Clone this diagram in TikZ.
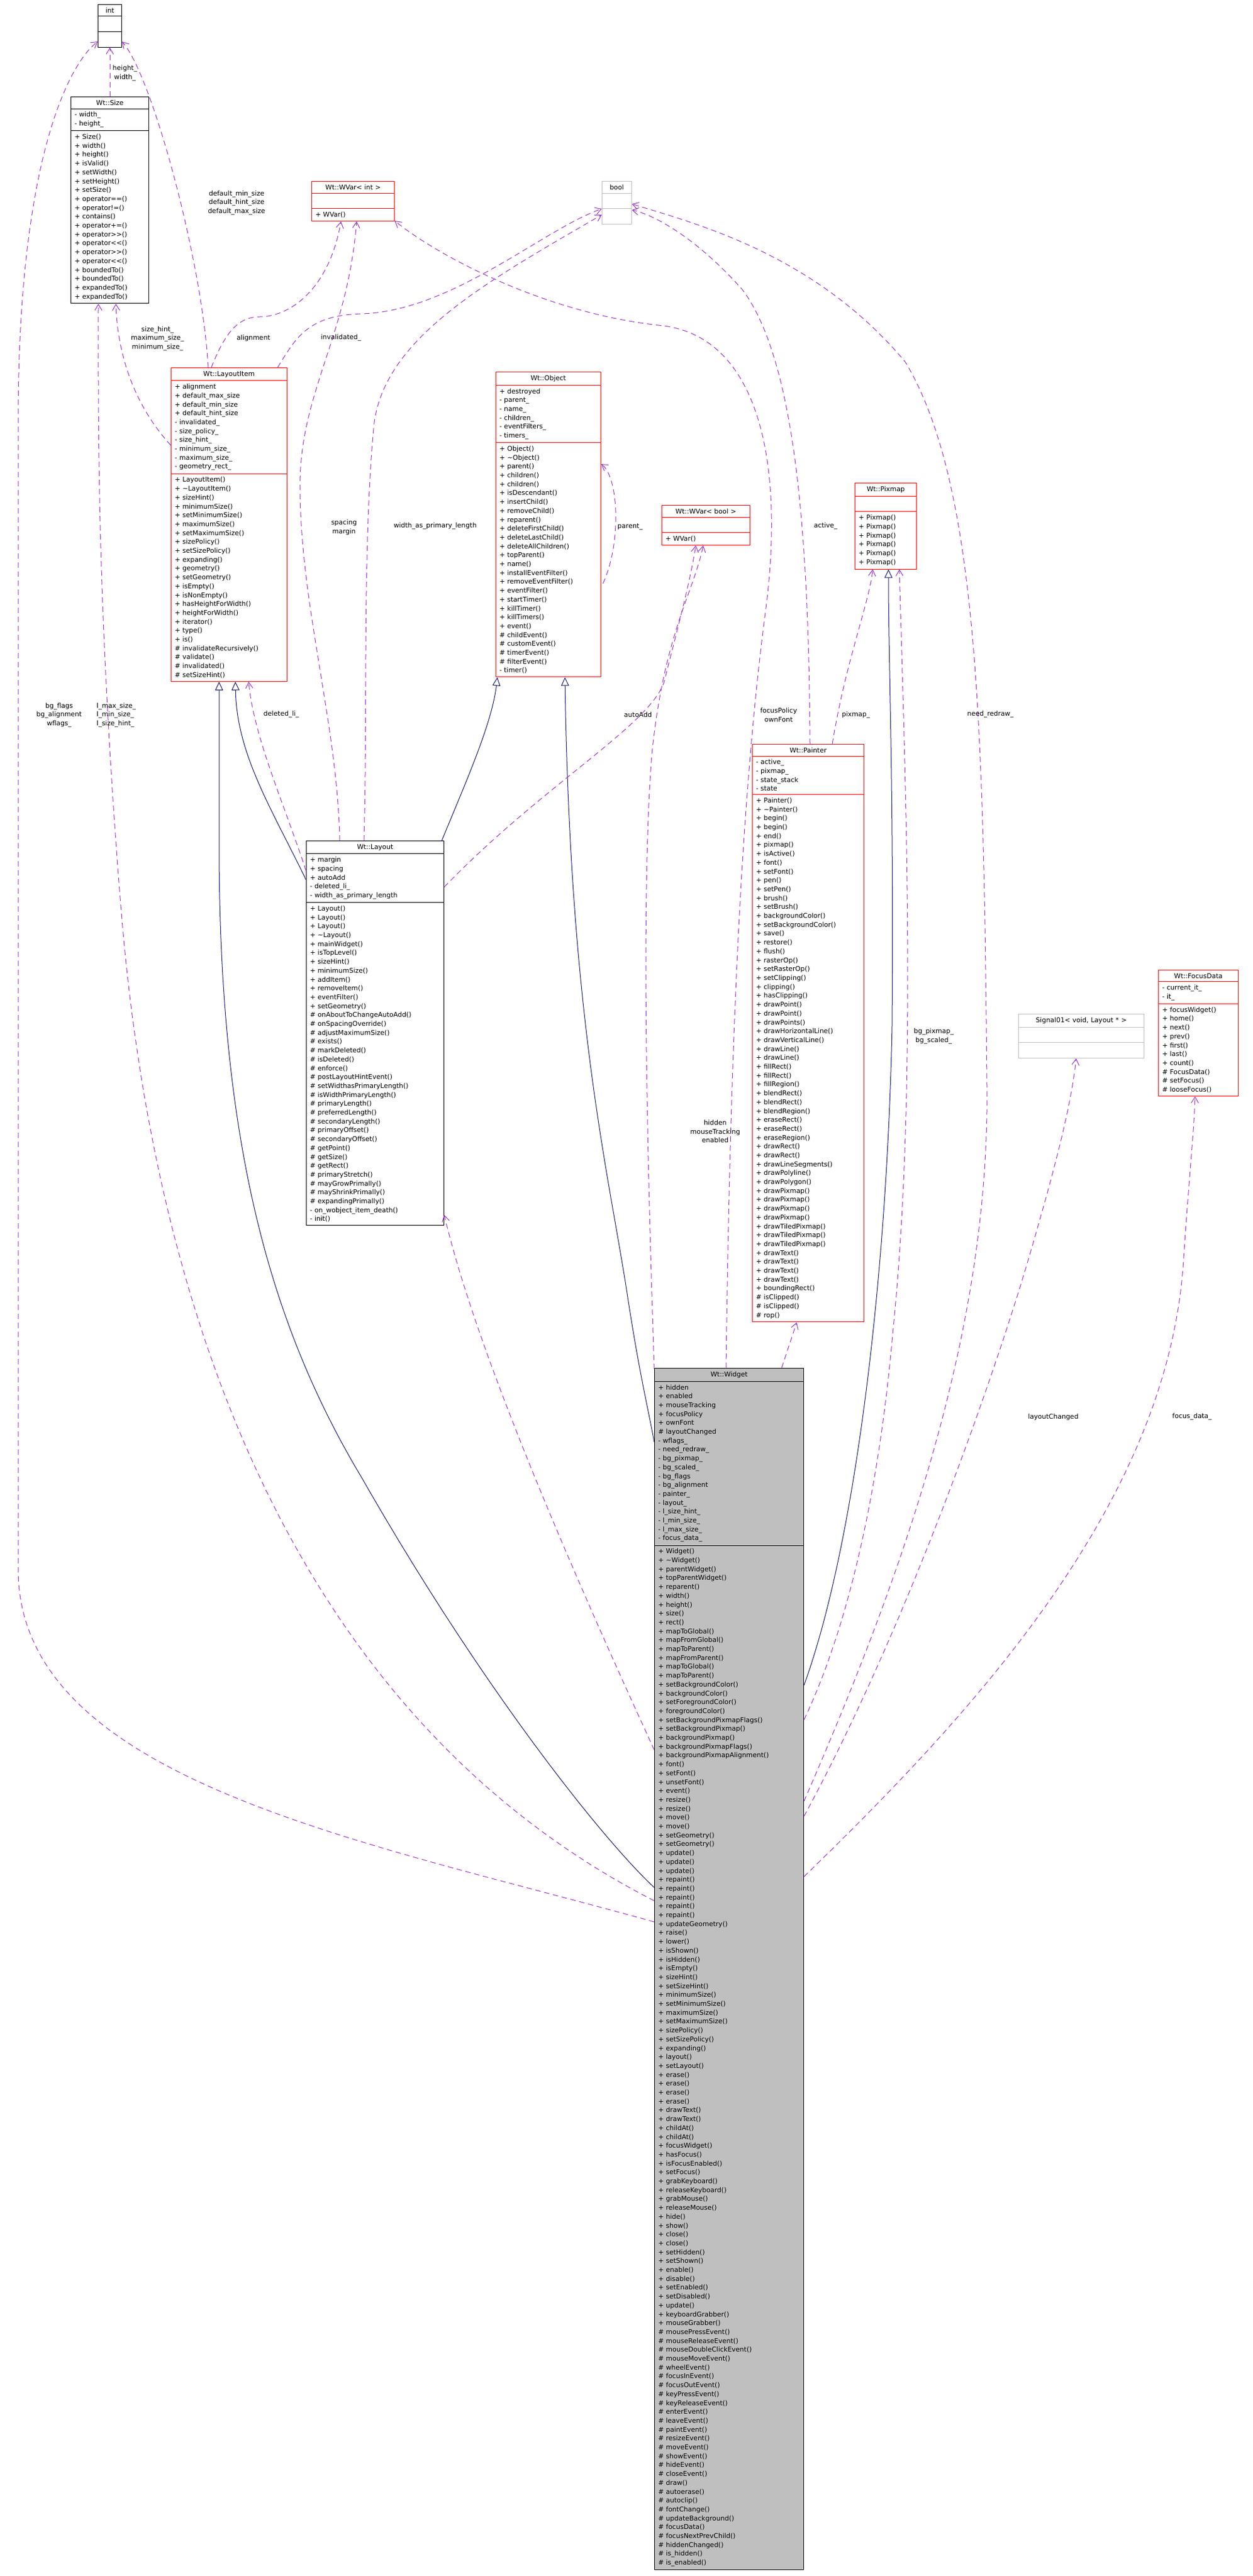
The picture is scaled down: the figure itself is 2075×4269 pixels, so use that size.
\documentclass[tikz,border=0pt]{standalone}
\usepackage{fontspec}
\newfontfamily\dx{DejaVu Sans}
\usetikzlibrary{shapes.multipart,arrows.meta,calc}
\definecolor{cred}{HTML}{FF0000}
\definecolor{cgrey}{HTML}{BFBFBF}
\definecolor{inhc}{HTML}{191970}
\definecolor{usec}{HTML}{9A32CD}
\newcommand\dxf{\dx\fontsize{11}{14.7}\selectfont}
\newcommand\PP[1]{+ #1}
\newcommand\HH[1]{\# #1}
\newcommand\MM[1]{- #1}
\newcommand\hd[1]{{\centering #1\par}}
\tikzset{
 cls/.style={rectangle split, rectangle split parts=3, draw=cred, anchor=north west, align=left,
   inner xsep=6pt, inner ysep=5pt, font=\dxf, line width=1pt, text width=#1, fill=white},
 blk/.style={draw=black},
 gry/.style={draw=cgrey},
 usel/.style={draw=usec, dash pattern=on 9pt off 6pt, line width=1pt, -{Straight Barb[length=10pt,width=12pt]}},
 inh/.style={draw=inhc, line width=1pt, -{Triangle[open,length=14pt,width=13pt,fill=white]}},
 lbl/.style={font=\dxf, align=center, inner sep=0pt},
 lbll/.style={font=\dxf, align=left, inner sep=0pt, anchor=west},
}
\begin{document}
\begin{tikzpicture}[x=1pt,y=-1pt]
\fill[white] (0,0) rectangle (2075,4269);
\useasboundingbox (0,0) rectangle (2075,4269);

% ---------------- classes
\node[cls=27pt,blk] (int) at (162,7) {\hd{int}\nodepart{two}\strut\nodepart{three}\strut};
\node[cls=117pt,blk] (size) at (117,160) {\hd{Wt::Size}\nodepart{two}\MM{width\_}\\\MM{height\_}\nodepart{three}\PP{Size()}\\\PP{width()}\\\PP{height()}\\\PP{isValid()}\\\PP{setWidth()}\\\PP{setHeight()}\\\PP{setSize()}\\\PP{operator==()}\\\PP{operator!=()}\\\PP{contains()}\\\PP{operator+=()}\\\PP{operator>>()}\\\PP{operator<<()}\\\PP{operator>>()}\\\PP{operator<<()}\\\PP{boundedTo()}\\\PP{boundedTo()}\\\PP{expandedTo()}\\\PP{expandedTo()}};
\node[cls=125pt] (wvint) at (516,300) {\hd{Wt::WVar< int >}\nodepart{two}\strut\nodepart{three}\PP{WVar()}};
\node[cls=37pt,gry] (bool) at (997,300) {\hd{bool}\nodepart{two}\strut\nodepart{three}\strut};
\node[cls=180pt] (litem) at (283,609) {\hd{Wt::LayoutItem}\nodepart{two}\PP{alignment}\\\PP{default\_max\_size}\\\PP{default\_min\_size}\\\PP{default\_hint\_size}\\\MM{invalidated\_}\\\MM{size\_policy\_}\\\MM{size\_hint\_}\\\MM{minimum\_size\_}\\\MM{maximum\_size\_}\\\MM{geometry\_rect\_}\nodepart{three}\PP{LayoutItem()}\\\PP{\textasciitilde LayoutItem()}\\\PP{sizeHint()}\\\PP{minimumSize()}\\\PP{setMinimumSize()}\\\PP{maximumSize()}\\\PP{setMaximumSize()}\\\PP{sizePolicy()}\\\PP{setSizePolicy()}\\\PP{expanding()}\\\PP{geometry()}\\\PP{setGeometry()}\\\PP{isEmpty()}\\\PP{isNonEmpty()}\\\PP{hasHeightForWidth()}\\\PP{heightForWidth()}\\\PP{iterator()}\\\PP{type()}\\\PP{is()}\\\HH{invalidateRecursively()}\\\HH{validate()}\\\HH{invalidated()}\\\HH{setSizeHint()}};
\node[cls=162pt] (object) at (821,616) {\hd{Wt::Object}\nodepart{two}\PP{destroyed}\\\MM{parent\_}\\\MM{name\_}\\\MM{children\_}\\\MM{eventFilters\_}\\\MM{timers\_}\nodepart{three}\PP{Object()}\\\PP{\textasciitilde Object()}\\\PP{parent()}\\\PP{children()}\\\PP{children()}\\\PP{isDescendant()}\\\PP{insertChild()}\\\PP{removeChild()}\\\PP{reparent()}\\\PP{deleteFirstChild()}\\\PP{deleteLastChild()}\\\PP{deleteAllChildren()}\\\PP{topParent()}\\\PP{name()}\\\PP{installEventFilter()}\\\PP{removeEventFilter()}\\\PP{eventFilter()}\\\PP{startTimer()}\\\PP{killTimer()}\\\PP{killTimers()}\\\PP{event()}\\\HH{childEvent()}\\\HH{customEvent()}\\\HH{timerEvent()}\\\HH{filterEvent()}\\\MM{timer()}};
\node[cls=134pt] (wvbool) at (1096,837) {\hd{Wt::WVar< bool >}\nodepart{two}\strut\nodepart{three}\PP{WVar()}};
\node[cls=90pt] (pixmap) at (1416,800) {\hd{Wt::Pixmap}\nodepart{two}\strut\nodepart{three}\PP{Pixmap()}\\\PP{Pixmap()}\\\PP{Pixmap()}\\\PP{Pixmap()}\\\PP{Pixmap()}\\\PP{Pixmap()}};
\node[cls=173pt] (painter) at (1246,1233) {\hd{Wt::Painter}\nodepart{two}\MM{active\_}\\\MM{pixmap\_}\\\MM{state\_stack}\\\MM{state}\nodepart{three}\PP{Painter()}\\\PP{\textasciitilde Painter()}\\\PP{begin()}\\\PP{begin()}\\\PP{end()}\\\PP{pixmap()}\\\PP{isActive()}\\\PP{font()}\\\PP{setFont()}\\\PP{pen()}\\\PP{setPen()}\\\PP{brush()}\\\PP{setBrush()}\\\PP{backgroundColor()}\\\PP{setBackgroundColor()}\\\PP{save()}\\\PP{restore()}\\\PP{flush()}\\\PP{rasterOp()}\\\PP{setRasterOp()}\\\PP{setClipping()}\\\PP{clipping()}\\\PP{hasClipping()}\\\PP{drawPoint()}\\\PP{drawPoint()}\\\PP{drawPoints()}\\\PP{drawHorizontalLine()}\\\PP{drawVerticalLine()}\\\PP{drawLine()}\\\PP{drawLine()}\\\PP{fillRect()}\\\PP{fillRect()}\\\PP{fillRegion()}\\\PP{blendRect()}\\\PP{blendRect()}\\\PP{blendRegion()}\\\PP{eraseRect()}\\\PP{eraseRect()}\\\PP{eraseRegion()}\\\PP{drawRect()}\\\PP{drawRect()}\\\PP{drawLineSegments()}\\\PP{drawPolyline()}\\\PP{drawPolygon()}\\\PP{drawPixmap()}\\\PP{drawPixmap()}\\\PP{drawPixmap()}\\\PP{drawPixmap()}\\\PP{drawTiledPixmap()}\\\PP{drawTiledPixmap()}\\\PP{drawTiledPixmap()}\\\PP{drawText()}\\\PP{drawText()}\\\PP{drawText()}\\\PP{drawText()}\\\PP{boundingRect()}\\\HH{isClipped()}\\\HH{isClipped()}\\\HH{rop()}};
\node[cls=216pt,blk] (layout) at (507,1393) {\hd{Wt::Layout}\nodepart{two}\PP{margin}\\\PP{spacing}\\\PP{autoAdd}\\\MM{deleted\_li\_}\\\MM{width\_as\_primary\_length}\nodepart{three}\PP{Layout()}\\\PP{Layout()}\\\PP{Layout()}\\\PP{\textasciitilde Layout()}\\\PP{mainWidget()}\\\PP{isTopLevel()}\\\PP{sizeHint()}\\\PP{minimumSize()}\\\PP{addItem()}\\\PP{removeItem()}\\\PP{eventFilter()}\\\PP{setGeometry()}\\\HH{onAboutToChangeAutoAdd()}\\\HH{onSpacingOverride()}\\\HH{adjustMaximumSize()}\\\HH{exists()}\\\HH{markDeleted()}\\\HH{isDeleted()}\\\HH{enforce()}\\\HH{postLayoutHintEvent()}\\\HH{setWidthasPrimaryLength()}\\\HH{isWidthPrimaryLength()}\\\HH{primaryLength()}\\\HH{preferredLength()}\\\HH{secondaryLength()}\\\HH{primaryOffset()}\\\HH{secondaryOffset()}\\\HH{getPoint()}\\\HH{getSize()}\\\HH{getRect()}\\\HH{primaryStretch()}\\\HH{mayGrowPrimally()}\\\HH{mayShrinkPrimally()}\\\HH{expandingPrimally()}\\\MM{on\_wobject\_item\_death()}\\\MM{init()}};
\node[cls=196pt,gry] (signal) at (1687,1680) {\hd{Signal01< void, Layout * >}\nodepart{two}\strut\nodepart{three}\strut};
\node[cls=120pt] (focus) at (1919,1607) {\hd{Wt::FocusData}\nodepart{two}\MM{current\_it\_}\\\MM{it\_}\nodepart{three}\PP{focusWidget()}\\\PP{home()}\\\PP{next()}\\\PP{prev()}\\\PP{first()}\\\PP{last()}\\\PP{count()}\\\HH{FocusData()}\\\HH{setFocus()}\\\HH{looseFocus()}};
\node[cls=235pt,blk,fill=cgrey] (widget) at (1084,2267) {\hd{Wt::Widget}\nodepart{two}\PP{hidden}\\\PP{enabled}\\\PP{mouseTracking}\\\PP{focusPolicy}\\\PP{ownFont}\\\HH{layoutChanged}\\\MM{wflags\_}\\\MM{need\_redraw\_}\\\MM{bg\_pixmap\_}\\\MM{bg\_scaled\_}\\\MM{bg\_flags}\\\MM{bg\_alignment}\\\MM{painter\_}\\\MM{layout\_}\\\MM{l\_size\_hint\_}\\\MM{l\_min\_size\_}\\\MM{l\_max\_size\_}\\\MM{focus\_data\_}\nodepart{three}\PP{Widget()}\\\PP{\textasciitilde Widget()}\\\PP{parentWidget()}\\\PP{topParentWidget()}\\\PP{reparent()}\\\PP{width()}\\\PP{height()}\\\PP{size()}\\\PP{rect()}\\\PP{mapToGlobal()}\\\PP{mapFromGlobal()}\\\PP{mapToParent()}\\\PP{mapFromParent()}\\\PP{mapToGlobal()}\\\PP{mapToParent()}\\\PP{setBackgroundColor()}\\\PP{backgroundColor()}\\\PP{setForegroundColor()}\\\PP{foregroundColor()}\\\PP{setBackgroundPixmapFlags()}\\\PP{setBackgroundPixmap()}\\\PP{backgroundPixmap()}\\\PP{backgroundPixmapFlags()}\\\PP{backgroundPixmapAlignment()}\\\PP{font()}\\\PP{setFont()}\\\PP{unsetFont()}\\\PP{event()}\\\PP{resize()}\\\PP{resize()}\\\PP{move()}\\\PP{move()}\\\PP{setGeometry()}\\\PP{setGeometry()}\\\PP{update()}\\\PP{update()}\\\PP{update()}\\\PP{repaint()}\\\PP{repaint()}\\\PP{repaint()}\\\PP{repaint()}\\\PP{repaint()}\\\PP{updateGeometry()}\\\PP{raise()}\\\PP{lower()}\\\PP{isShown()}\\\PP{isHidden()}\\\PP{isEmpty()}\\\PP{sizeHint()}\\\PP{setSizeHint()}\\\PP{minimumSize()}\\\PP{setMinimumSize()}\\\PP{maximumSize()}\\\PP{setMaximumSize()}\\\PP{sizePolicy()}\\\PP{setSizePolicy()}\\\PP{expanding()}\\\PP{layout()}\\\PP{setLayout()}\\\PP{erase()}\\\PP{erase()}\\\PP{erase()}\\\PP{erase()}\\\PP{drawText()}\\\PP{drawText()}\\\PP{childAt()}\\\PP{childAt()}\\\PP{focusWidget()}\\\PP{hasFocus()}\\\PP{isFocusEnabled()}\\\PP{setFocus()}\\\PP{grabKeyboard()}\\\PP{releaseKeyboard()}\\\PP{grabMouse()}\\\PP{releaseMouse()}\\\PP{hide()}\\\PP{show()}\\\PP{close()}\\\PP{close()}\\\PP{setHidden()}\\\PP{setShown()}\\\PP{enable()}\\\PP{disable()}\\\PP{setEnabled()}\\\PP{setDisabled()}\\\PP{update()}\\\PP{keyboardGrabber()}\\\PP{mouseGrabber()}\\\HH{mousePressEvent()}\\\HH{mouseReleaseEvent()}\\\HH{mouseDoubleClickEvent()}\\\HH{mouseMoveEvent()}\\\HH{wheelEvent()}\\\HH{focusInEvent()}\\\HH{focusOutEvent()}\\\HH{keyPressEvent()}\\\HH{keyReleaseEvent()}\\\HH{enterEvent()}\\\HH{leaveEvent()}\\\HH{paintEvent()}\\\HH{resizeEvent()}\\\HH{moveEvent()}\\\HH{showEvent()}\\\HH{hideEvent()}\\\HH{closeEvent()}\\\HH{draw()}\\\HH{autoerase()}\\\HH{autoclip()}\\\HH{fontChange()}\\\HH{updateBackground()}\\\HH{focusData()}\\\HH{focusNextPrevChild()}\\\HH{hiddenChanged()}\\\HH{is\_hidden()}\\\HH{is\_enabled()}};

% ---------------- inheritance
\draw[inh] ($(layout.north west)+(0,65)$) .. controls (450,1340) and (392,1250) .. ($(litem.south west)+(107,0)$);
\draw[inh] ($(widget.north west)+(0,861)$) .. controls (1000,3050) and (800,2800) .. (600,2450) .. controls (450,2200) and (363,1900) .. (363,1400) -- ($(litem.south west)+(80,0)$);
\draw[inh] ($(layout.north east)+(-4,0)$) .. controls (770,1300) and (815,1200) .. ($(object.south west)+(3,0)$);
\draw[inh] ($(widget.north west)+(0,123)$) .. controls (1075,2340) and (1060,2280) .. (1040,2150) .. controls (1010,1950) and (945,1700) .. ($(object.south west)+(115,0)$);
\draw[inh] ($(widget.north east)+(0,526)$) .. controls (1420,2550) and (1470,2100) .. (1478,1700) .. controls (1481,1300) and (1472,1100) .. ($(pixmap.south west)+(56,0)$);

% ---------------- usage
\draw[usel] (size.north) -- (int.south);
\draw[usel] ($(litem.north west)+(62,0)$) .. controls (335,430) and (250,120) .. ($(int.north east)+(0,62)$);
\draw[usel] ($(widget.north west)+(0,918)$) .. controls (600,3050) and (30,2950) .. (30,2600) -- (30,700) .. controls (30,250) and (120,100) .. ($(int.north west)+(0,62)$);
\draw[usel] ($(widget.north west)+(0,883)$) .. controls (400,2800) and (240,2000) .. (200,1500) .. controls (160,1000) and (163,700) .. ($(size.south west)+(46,0)$);
\draw[usel] ($(litem.north west)+(0,129)$) .. controls (230,680) and (195,600) .. ($(size.south west)+(75,0)$);
\draw[usel] ($(litem.north west)+(67,0)$) .. controls (370,560) and (390,525) .. (430,525) .. controls (480,525) and (545,480) .. ($(wvint.south west)+(49,0)$);
\draw[usel] ($(litem.north west)+(177,0)$) .. controls (490,560) and (510,522) .. (600,520) .. controls (750,515) and (900,380) .. ($(bool.north west)+(0,46)$);
\draw[usel] ($(layout.north west)+(56,0)$) .. controls (559,1200) and (497,1000) .. (497,805) .. controls (497,650) and (575,560) .. ($(wvint.south west)+(75,0)$);
\draw[usel] ($(layout.north west)+(96,0)$) .. controls (609,1200) and (600,900) .. (620,700) .. controls (640,560) and (800,470) .. ($(bool.north west)+(0,56)$);
\draw[usel] ($(layout.north west)+(0,50)$) .. controls (470,1330) and (420,1220) .. ($(litem.south west)+(129,0)$);
\draw[usel] ($(layout.north east)+(0,77)$) .. controls (900,1300) and (1080,1200) .. (1101,1128) .. controls (1120,1050) and (1140,980) .. ($(wvbool.south west)+(57,0)$);
\draw[usel] ($(object.north east)+(3,351)$) .. controls (1030,900) and (1025,790) .. ($(object.north east)+(0,153)$);
\draw[usel] ($(painter.north west)+(133,0)$) .. controls (1400,1100) and (1440,1000) .. ($(pixmap.south west)+(30,0)$);
\draw[usel] ($(painter.north west)+(96,0)$) .. controls (1340,900) and (1320,600) .. (1230,480) .. controls (1150,390) and (1080,355) .. ($(bool.north east)+(0,48)$);
\draw[usel] ($(widget.north east)+(0,718)$) .. controls (1500,2600) and (1640,2200) .. (1635,1800) .. controls (1630,1200) and (1620,800) .. (1500,600) .. controls (1350,420) and (1150,370) .. ($(bool.north east)+(0,38)$);
\draw[usel] ($(widget.north east)+(0,583)$) .. controls (1380,2750) and (1450,2550) .. (1480,2200) .. controls (1520,1800) and (1500,1300) .. ($(pixmap.south west)+(74,0)$);
\draw[usel] ($(widget.north east)+(0,743)$) .. controls (1500,2700) and (1640,2300) .. (1700,2100) .. controls (1750,1930) and (1775,1830) .. ($(signal.south west)+(96,0)$);
\draw[usel] ($(widget.north east)+(0,843)$) .. controls (1600,2850) and (1930,2500) .. (1960,2100) .. controls (1970,1950) and (1978,1880) .. ($(focus.south west)+(61,0)$);
\draw[usel] ($(widget.north west)+(0,2)$) .. controls (1075,2000) and (1060,1500) .. (1080,1250) .. controls (1100,1050) and (1150,980) .. ($(wvbool.south west)+(69,0)$);
\draw[usel] ($(widget.north west)+(119,0)$) .. controls (1210,1700) and (1230,1300) .. (1270,1000) .. controls (1300,750) and (1250,560) .. (1100,540) .. controls (900,520) and (720,420) .. ($(wvint.north east)+(0,66)$);
\draw[usel] ($(widget.north west)+(211,0)$) -- ($(painter.south west)+(74,0)$);
\draw[usel] ($(widget.north west)+(0,633)$) .. controls (900,2500) and (780,2200) .. ($(layout.south east)+(0,-18)$);

% ---------------- labels
\node[lbl] (l1) at (207,121) {height\_\\width\_};
\node[lbl] (l2) at (392,336) {default\_min\_size\\default\_hint\_size\\default\_max\_size};
\node[lbl] (l3) at (261,561) {size\_hint\_\\maximum\_size\_\\minimum\_size\_};
\node[lbl] (l4) at (420,560) {alignment};
\node[lbl] (l5) at (565,560) {invalidated\_};
\node[lbl] (l6) at (98,1185) {bg\_flags\\bg\_alignment\\wflags\_};
\node[lbll] (l7) at (160,1185) {l\_max\_size\_\\l\_min\_size\_\\l\_size\_hint\_};
\node[lbl] (l8) at (570,874) {spacing\\margin};
\node[lbl] (l9) at (721,872) {width\_as\_primary\_length};
\node[lbl] (l10) at (466,1184) {deleted\_li\_};
\node[lbl] (l11) at (1044,873) {parent\_};
\node[lbl] (l12) at (1057,1184) {autoAdd};
\node[lbl] (l13) at (1368,872) {active\_};
\node[lbl] (l14) at (1290,1185) {focusPolicy\\ownFont};
\node[lbl] (l15) at (1418,1185) {pixmap\_};
\node[lbl] (l16) at (1641,1184) {need\_redraw\_};
\node[lbl] (l17) at (1185,1875) {hidden\\mouseTracking\\enabled};
\node[lbl] (l18) at (1547,1717) {bg\_pixmap\_\\bg\_scaled\_};
\node[lbl] (l19) at (1745,2348) {layoutChanged};
\node[lbl] (l20) at (1975,2348) {focus\_data\_};
\end{tikzpicture}
\end{document}
